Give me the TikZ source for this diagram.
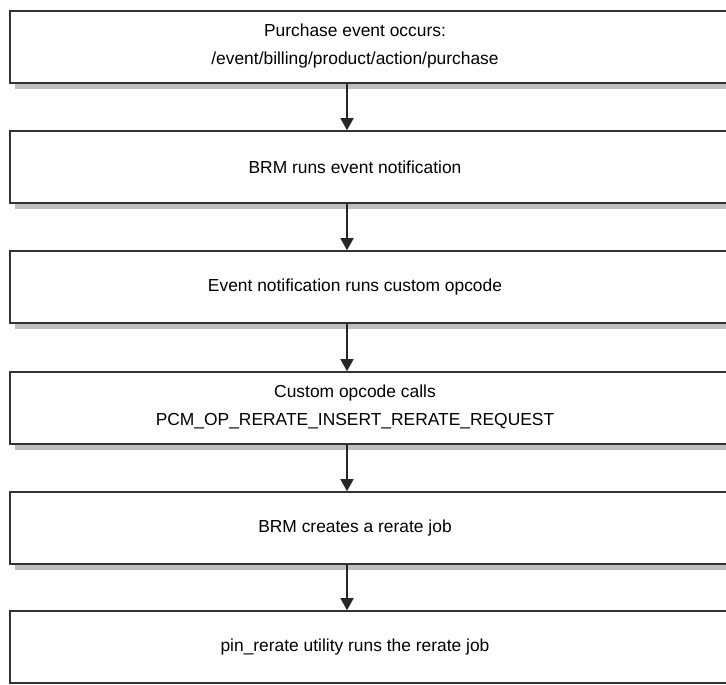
\documentclass[tikz,border=0pt]{standalone}
\usepackage{fontspec}
\setmainfont{Liberation Sans}
\usetikzlibrary{arrows.meta,shadows}
\begin{document}
\begin{tikzpicture}[
    x=1pt, y=1pt,
    font=\fontsize{17.4}{28}\selectfont,
    block/.style={draw=black!80, line width=1.6pt, fill=white, minimum width=730pt, minimum height=72pt,
      drop shadow={shadow xshift=5pt, shadow yshift=-6pt, fill=black!25, opacity=1}},
    lastblock/.style={draw=black!80, line width=1.6pt, fill=white, minimum width=730pt, minimum height=72pt},
    lbl/.style={align=center, inner sep=0pt},
    arr/.style={-{Triangle[width=13pt,length=12pt]}, line width=1.4pt, black!85}
]
\useasboundingbox (0,0) rectangle (726,-685);

\node[block] (b1) at (375,-47) {};
\node[block] (b2) at (375,-167) {};
\node[block] (b3) at (375,-287) {};
\node[block] (b4) at (375,-408) {};
\node[block] (b5) at (375,-528) {};
\node[lastblock] (b6) at (375,-647) {};

\node[lbl] (t1) at (355,-46) {Purchase event occurs:\\/event/billing/product/action/purchase};
\node[lbl] (t2) at (355,-167) {BRM runs event notification};
\node[lbl] (t3) at (355,-287) {Event notification runs custom opcode};
\node[lbl] (t4) at (355,-407) {Custom opcode calls\\PCM\_OP\_RERATE\_INSERT\_RERATE\_REQUEST};
\node[lbl] (t5) at (355,-528) {BRM creates a rerate job};
\node[lbl] (t6) at (355,-647) {pin\_rerate utility runs the rerate job};

\foreach \a/\b in {b1/b2,b2/b3,b3/b4,b4/b5,b5/b6}
  \draw[arr] ([xshift=-28pt]\a.south) -- ([xshift=-28pt]\b.north);
\end{tikzpicture}
\end{document}
